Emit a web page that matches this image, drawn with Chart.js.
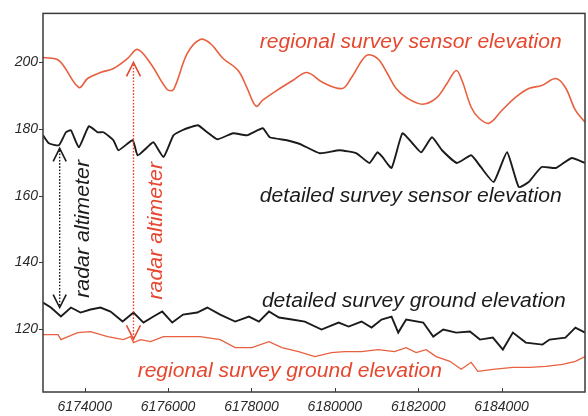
<!DOCTYPE html>
<html>
<head>
<meta charset="utf-8">
<script src="https://cdn.jsdelivr.net/npm/chart.js@4/dist/chart.umd.min.js"></script>
<style>
html,body{margin:0;padding:0;background:#fff;}
#wrap{width:588px;height:416px;position:relative;}
</style>
</head>
<body>
<div id="wrap"><canvas id="c" width="588" height="416"></canvas></div>
<script>
// ---- data (survey northing vs elevation) ----
const xTicks = [6174000, 6176000, 6178000, 6180000, 6182000, 6184000];
const yTicks = [120, 140, 160, 180, 200];

const regionalSensorX = [6173000,6173380,6173860,6174070,6174380,6174690,6175030,6175270,6175580,6175980,6176130,6176460,6176770,6177010,6177320,6177680,6177890,6178110,6178270,6178680,6178990,6179330,6179710,6180180,6180400,6180760,6181020,6181260,6181470,6181740,6182100,6182430,6182690,6182910,6183050,6183270,6183460,6183700,6184010,6184340,6184650,6184960,6185300,6185530,6185770,6186000];
const regionalSensorY = [201.4,200.5,192.4,195.1,196.9,198.1,201.1,203.8,199.6,191.8,191.8,202.6,206.8,205.6,201.1,197.5,192.4,186.8,188.6,192.1,194.5,196.9,193.9,192.1,195.4,202.0,201.1,196.6,192.1,189.2,187.4,189.2,193.6,197.5,194.5,186.5,183.2,181.7,185.6,189.5,192.1,193.0,195.1,192.4,185.6,182.0];

const detailedSensorX = [6173000,6173140,6173380,6173550,6173670,6173860,6174100,6174310,6174450,6174690,6174810,6175150,6175270,6175500,6175650,6175890,6176130,6176340,6176530,6176720,6176940,6177180,6177560,6177890,6178270,6178440,6178850,6179110,6179230,6179640,6180110,6180520,6180830,6181020,6181140,6181360,6181620,6181860,6182070,6182330,6182570,6182930,6183270,6183500,6183810,6184130,6184410,6184650,6184960,6185300,6185680,6186000];
const detailedSensorY = [178.1,175.7,175.1,179.0,179.6,174.5,180.8,179.0,179.0,176.6,173.6,176.6,172.1,174.5,176.0,171.6,178.1,179.6,180.5,181.1,179.0,176.9,178.7,178.1,180.2,177.5,176.6,175.7,175.1,172.7,173.6,172.7,169.8,173.0,171.6,168.3,178.7,175.7,173.0,177.5,173.6,169.8,172.1,168.6,164.1,173.0,162.6,164.1,168.6,168.3,171.3,169.8];

const detailedGroundX = [6173000,6173190,6173430,6173670,6173900,6174140,6174380,6174620,6174910,6175170,6175410,6175650,6175860,6176100,6176360,6176700,6176940,6177250,6177610,6177940,6178180,6178420,6178660,6178970,6179280,6179680,6180090,6180330,6180640,6180880,6181120,6181360,6181520,6181710,6182120,6182360,6182600,6182910,6183240,6183480,6183790,6184030,6184270,6184580,6184980,6185150,6185530,6185770,6186000];
const detailedGroundY = [128.0,126.5,123.8,126.5,125.0,125.9,126.5,125.3,122.3,125.0,122.0,123.8,125.3,122.0,124.4,125.0,126.5,124.4,122.3,123.8,122.3,125.3,123.5,122.9,122.3,119.9,122.0,120.8,122.3,120.5,122.9,123.8,119.0,122.9,122.0,117.8,119.9,119.0,119.3,116.9,117.5,113.9,119.0,116.0,115.4,116.9,117.5,120.5,119.0];

const regionalGroundX = [6173000,6173360,6173430,6173830,6174140,6174550,6174930,6175100,6175170,6175340,6175580,6175890,6176290,6176770,6177250,6177610,6178010,6178420,6178730,6179130,6179520,6179920,6180230,6180640,6181040,6181430,6181710,6181950,6182190,6182430,6182760,6183030,6183270,6183430,6183790,6184270,6184670,6185060,6185460,6185770,6186000];
const regionalGroundY = [118.4,118.4,116.9,119.0,119.3,117.8,116.9,117.8,116.0,116.9,116.3,117.8,117.8,117.8,116.9,114.5,114.5,116.3,114.5,113.3,111.8,113.0,113.3,113.3,113.9,113.3,114.5,113.0,113.9,111.8,110.4,108.0,110.1,107.4,108.0,108.6,108.6,108.9,109.5,110.4,111.8];

// ---- annotations (anchored in data coordinates) ----
const RED = '#e6472f', RED_LINE = '#e8603f', BLACK = '#1b1b1b';
const labels = [
  {text:'regional survey sensor elevation', x0:6178200, x1:6185440, y:204.1, color:RED},
  {text:'detailed survey sensor elevation', x0:6178200, x1:6185440, y:158.1, color:BLACK},
  {text:'detailed survey ground elevation', x0:6178250, x1:6185540, y:126.8, color:BLACK},
  {text:'regional survey ground elevation', x0:6175270, x1:6182570, y:105.6, color:RED}
];
const vlabels = [
  {text:'radar altimeter', x:6174096, y0:129.4, y1:170.7, color:BLACK},
  {text:'radar altimeter', x:6175863, y0:128.9, y1:170.1, color:RED}
];
const arrows = [
  {x:6173400, top:174.2, bottom:126.5, color:BLACK, hw:6.5, hh:13},
  {x:6175170, top:199.9, bottom:117.0, color:RED, hw:7, hh:14}
];

const pts = (xs, ys) => xs.map((v,i)=>({x:v, y:ys[i]}));
const FONT = '"Liberation Sans", Arial, sans-serif';

const annot = {
  id:'annot',
  afterDatasetsDraw(chart){
    const {ctx, chartArea:ca, scales:{x, y}} = chart;
    ctx.save();
    // frame
    ctx.strokeStyle = '#3a3a3a'; ctx.lineWidth = 1.5;
    ctx.strokeRect(ca.left, ca.top, ca.right-ca.left, ca.bottom-ca.top);
    // tick marks
    ctx.lineWidth = 1;
    xTicks.forEach(v=>{const p=Math.round(x.getPixelForValue(v))+0.5; ctx.beginPath(); ctx.moveTo(p,ca.bottom); ctx.lineTo(p,ca.bottom-4); ctx.stroke();});
    yTicks.forEach(v=>{const p=Math.round(y.getPixelForValue(v))+0.5; ctx.beginPath(); ctx.moveTo(ca.left,p); ctx.lineTo(ca.left-4,p); ctx.stroke();});
    // arrows
    arrows.forEach(a=>{
      const px = x.getPixelForValue(a.x), t = y.getPixelForValue(a.top), b = y.getPixelForValue(a.bottom);
      ctx.strokeStyle = a.color;
      ctx.lineWidth = 1.4; ctx.setLineDash([1.6,1.6]);
      ctx.beginPath(); ctx.moveTo(px, t+2); ctx.lineTo(px, b-2); ctx.stroke();
      ctx.setLineDash([]); ctx.lineWidth = 1.6;
      ctx.beginPath(); ctx.moveTo(px-a.hw, t+a.hh); ctx.lineTo(px, t); ctx.lineTo(px+a.hw, t+a.hh); ctx.stroke();
      ctx.beginPath(); ctx.moveTo(px-a.hw, b-a.hh); ctx.lineTo(px, b); ctx.lineTo(px+a.hw, b-a.hh); ctx.stroke();
    });
    // horizontal labels
    ctx.font = 'italic 20px ' + FONT;
    ctx.textAlign = 'left'; ctx.textBaseline = 'alphabetic';
    labels.forEach(l=>{
      const x0 = x.getPixelForValue(l.x0), x1 = x.getPixelForValue(l.x1), yb = y.getPixelForValue(l.y);
      const w = ctx.measureText(l.text).width;
      ctx.save(); ctx.fillStyle = l.color; ctx.translate(x0, yb); ctx.scale((x1-x0)/w, 1); ctx.fillText(l.text, 0, 0); ctx.restore();
    });
    // vertical labels
    vlabels.forEach(l=>{
      const xb = x.getPixelForValue(l.x), y0 = y.getPixelForValue(l.y0), y1 = y.getPixelForValue(l.y1);
      const w = ctx.measureText(l.text).width;
      ctx.save(); ctx.fillStyle = l.color; ctx.translate(xb, y0); ctx.rotate(-Math.PI/2); ctx.scale((y0-y1)/w, 1); ctx.fillText(l.text, 0, 0); ctx.restore();
    });
    ctx.restore();
  }
};

new Chart(document.getElementById('c'), {
  type:'line',
  data:{
    datasets:[
      {label:'regional survey sensor elevation', data:pts(regionalSensorX, regionalSensorY), borderColor:RED_LINE, borderWidth:1.6, tension:0.35},
      {label:'detailed survey sensor elevation', data:pts(detailedSensorX, detailedSensorY), borderColor:BLACK, borderWidth:1.9, tension:0.15},
      {label:'detailed survey ground elevation', data:pts(detailedGroundX, detailedGroundY), borderColor:BLACK, borderWidth:1.9},
      {label:'regional survey ground elevation', data:pts(regionalGroundX, regionalGroundY), borderColor:RED_LINE, borderWidth:1.3}
    ]
  },
  options:{
    responsive:false, animation:false, devicePixelRatio:1,
    layout:{padding:{top:13, right:3, left:0, bottom:0}},
    elements:{point:{radius:0}, line:{tension:0}},
    plugins:{legend:{display:false}, tooltip:{enabled:false}},
    scales:{
      x:{type:'linear', min:6173000, max:6186000,
        grid:{display:false, drawTicks:false}, border:{display:false},
        afterBuildTicks:s=>{s.ticks = xTicks.map(v=>({value:v}));},
        afterFit:s=>{s.height = 24;},
        ticks:{padding:7, color:'#2a2a2a', font:{family:FONT, size:14, style:'italic'}, maxRotation:0, autoSkip:false, callback:v=>String(v)}},
      y:{type:'linear', min:101.2, max:214.6,
        grid:{display:false, drawTicks:false}, border:{display:false},
        afterBuildTicks:s=>{s.ticks = yTicks.map(v=>({value:v}));},
        afterFit:s=>{s.width = 43;},
        ticks:{padding:5, color:'#2a2a2a', font:{family:FONT, size:14, style:'italic'}, callback:v=>String(v)}}
    }
  },
  plugins:[annot]
});
</script>
</body>
</html>
